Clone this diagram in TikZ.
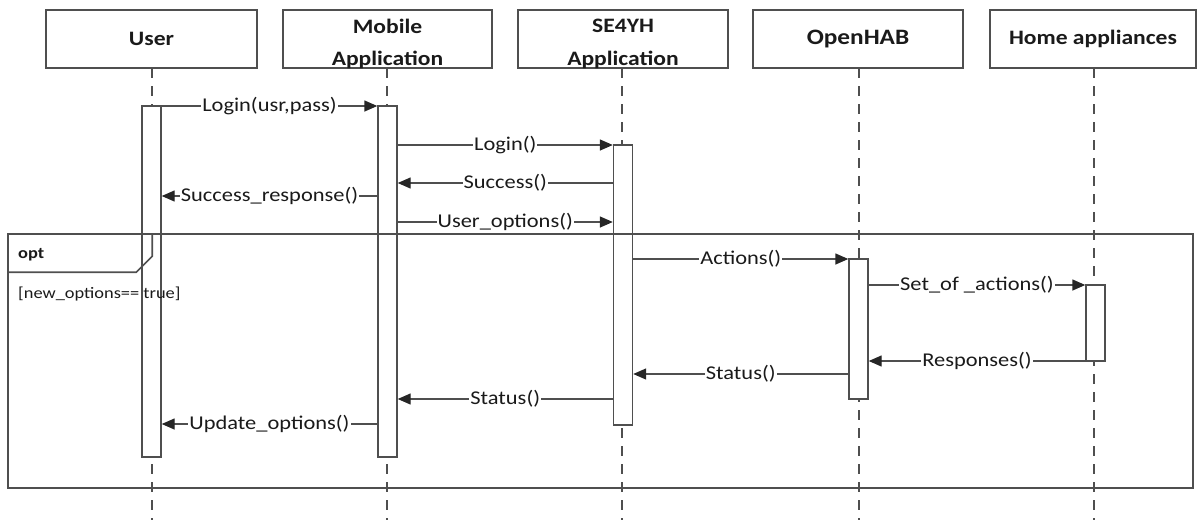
\documentclass[tikz,border=0pt]{standalone}
\usepackage{fontspec}
\setmainfont{Carlito}[FakeStretch=1.15]
\usetikzlibrary{arrows.meta}
\definecolor{ln}{HTML}{4F4F4F}
\definecolor{tx}{HTML}{1A1A1A}
% two-line participant title, set a little low in its box
\newcommand\twolines[2]{\raisebox{-5pt}[\height][\depth]{\shortstack{#1\\[15pt]#2}}}

\begin{document}
\begin{tikzpicture}[x=1pt,y=-1pt,
  head/.style={draw=ln, line width=1.6pt, minimum height=58pt, inner sep=0pt,
    text=tx, align=center, font=\bfseries\fontsize{20.5}{32}\selectfont},
  bar/.style={draw=ln, fill=white, line width=1.4pt, minimum width=19pt, inner sep=0pt},
  life/.style={draw=ln, line width=1.4pt, dash pattern=on 10pt off 8pt},
  frame/.style={draw=ln, line width=1.6pt},
  msg/.style={draw=ln, line width=1.4pt, -{Triangle[length=13pt,width=11pt,color=black!85]}},
  lbl/.style={fill=white, inner xsep=1pt, inner ysep=0pt, text=tx,
    font=\fontsize{19.5}{22}\selectfont},
  small/.style={inner sep=0pt, anchor=base west, text=tx, font=\fontsize{16}{18}\selectfont}
]
\useasboundingbox (0,0) rectangle (1197,520);

% participants
\node[head, minimum width=211pt] (u) at (151.5,39) {User};
\node[head, minimum width=209pt] (m) at (387.5,39) {\twolines{Mobile}{Application}};
\node[head, minimum width=210pt] (s) at (623,39) {\twolines{SE4YH}{Application}};
\node[head, minimum width=210pt, font=\bfseries\fontsize{22}{26}\selectfont] (o) at (858,39) {OpenHAB};
\node[head, minimum width=206pt] (h) at (1093,39) {Home appliances};

% lifelines
\coordinate (bottom) at (0,520);
\foreach \p/\x in {u/152,m/387,s/622,o/859,h/1094}{
  \coordinate (\p top) at (\x,68);
  \draw[life] (\p top) -- (\p top |- bottom);
}

% activation bars
\node[bar, minimum height=351pt] (bu) at (151.5,281.5) {};
\node[bar, minimum height=351pt] (bm) at (387.5,281.5) {};
\node[bar, minimum height=280pt] (bs) at (623,285) {};
\node[bar, minimum height=140pt] (bo) at (858.5,329) {};
\node[bar, minimum height=76pt]  (bh) at (1095.5,323) {};

% opt fragment
\node[frame, minimum width=1185pt, minimum height=254pt, inner sep=0pt] (opt) at (600.5,361) {};
\draw[frame] ([xshift=145pt]opt.north west) -- ++(0,23) -- ++(-16,16) -- ++(-129,0);
\node[small, font=\bfseries\fontsize{16}{18}\selectfont] (optl) at (18,258) {opt};
\node[small] (cond) at (18,298) {[new\_options== true]};

% message rows
\coordinate (r1) at (0,106);
\coordinate (r2) at (0,145);
\coordinate (r3) at (0,183);
\coordinate (r4) at (0,196);
\coordinate (r5) at (0,222);
\coordinate (r6) at (0,259);
\coordinate (r7) at (0,285);
\coordinate (r8) at (0,361);
\coordinate (r9) at (0,374);
\coordinate (r10) at (0,399);
\coordinate (r11) at (0,424);

% messages
\draw[msg] (bu.east |- r1) -- node[lbl]{Login(usr,pass)} (bm.west |- r1);
\draw[msg] (bm.east |- r2) -- node[lbl]{Login()} (bs.west |- r2);
\draw[msg] (bs.west |- r3) -- node[lbl]{Success()} (bm.east |- r3);
\draw[msg] (bm.west |- r4) -- node[lbl]{Success\_response()} (bu.east |- r4);
\draw[msg] (bm.east |- r5) -- node[lbl]{User\_options()} (bs.west |- r5);
\draw[msg] (bs.east |- r6) -- node[lbl]{Actions()} (bo.west |- r6);
\draw[msg] (bo.east |- r7) -- node[lbl]{Set\_of \_actions()} (bh.west |- r7);
\draw[msg] (bh.west |- r8) -- node[lbl]{Responses()} (bo.east |- r8);
\draw[msg] (bo.west |- r9) -- node[lbl]{Status()} (bs.east |- r9);
\draw[msg] (bs.west |- r10) -- node[lbl]{Status()} (bm.east |- r10);
\draw[msg] (bm.west |- r11) -- node[lbl]{Update\_options()} (bu.east |- r11);
\end{tikzpicture}
\end{document}
